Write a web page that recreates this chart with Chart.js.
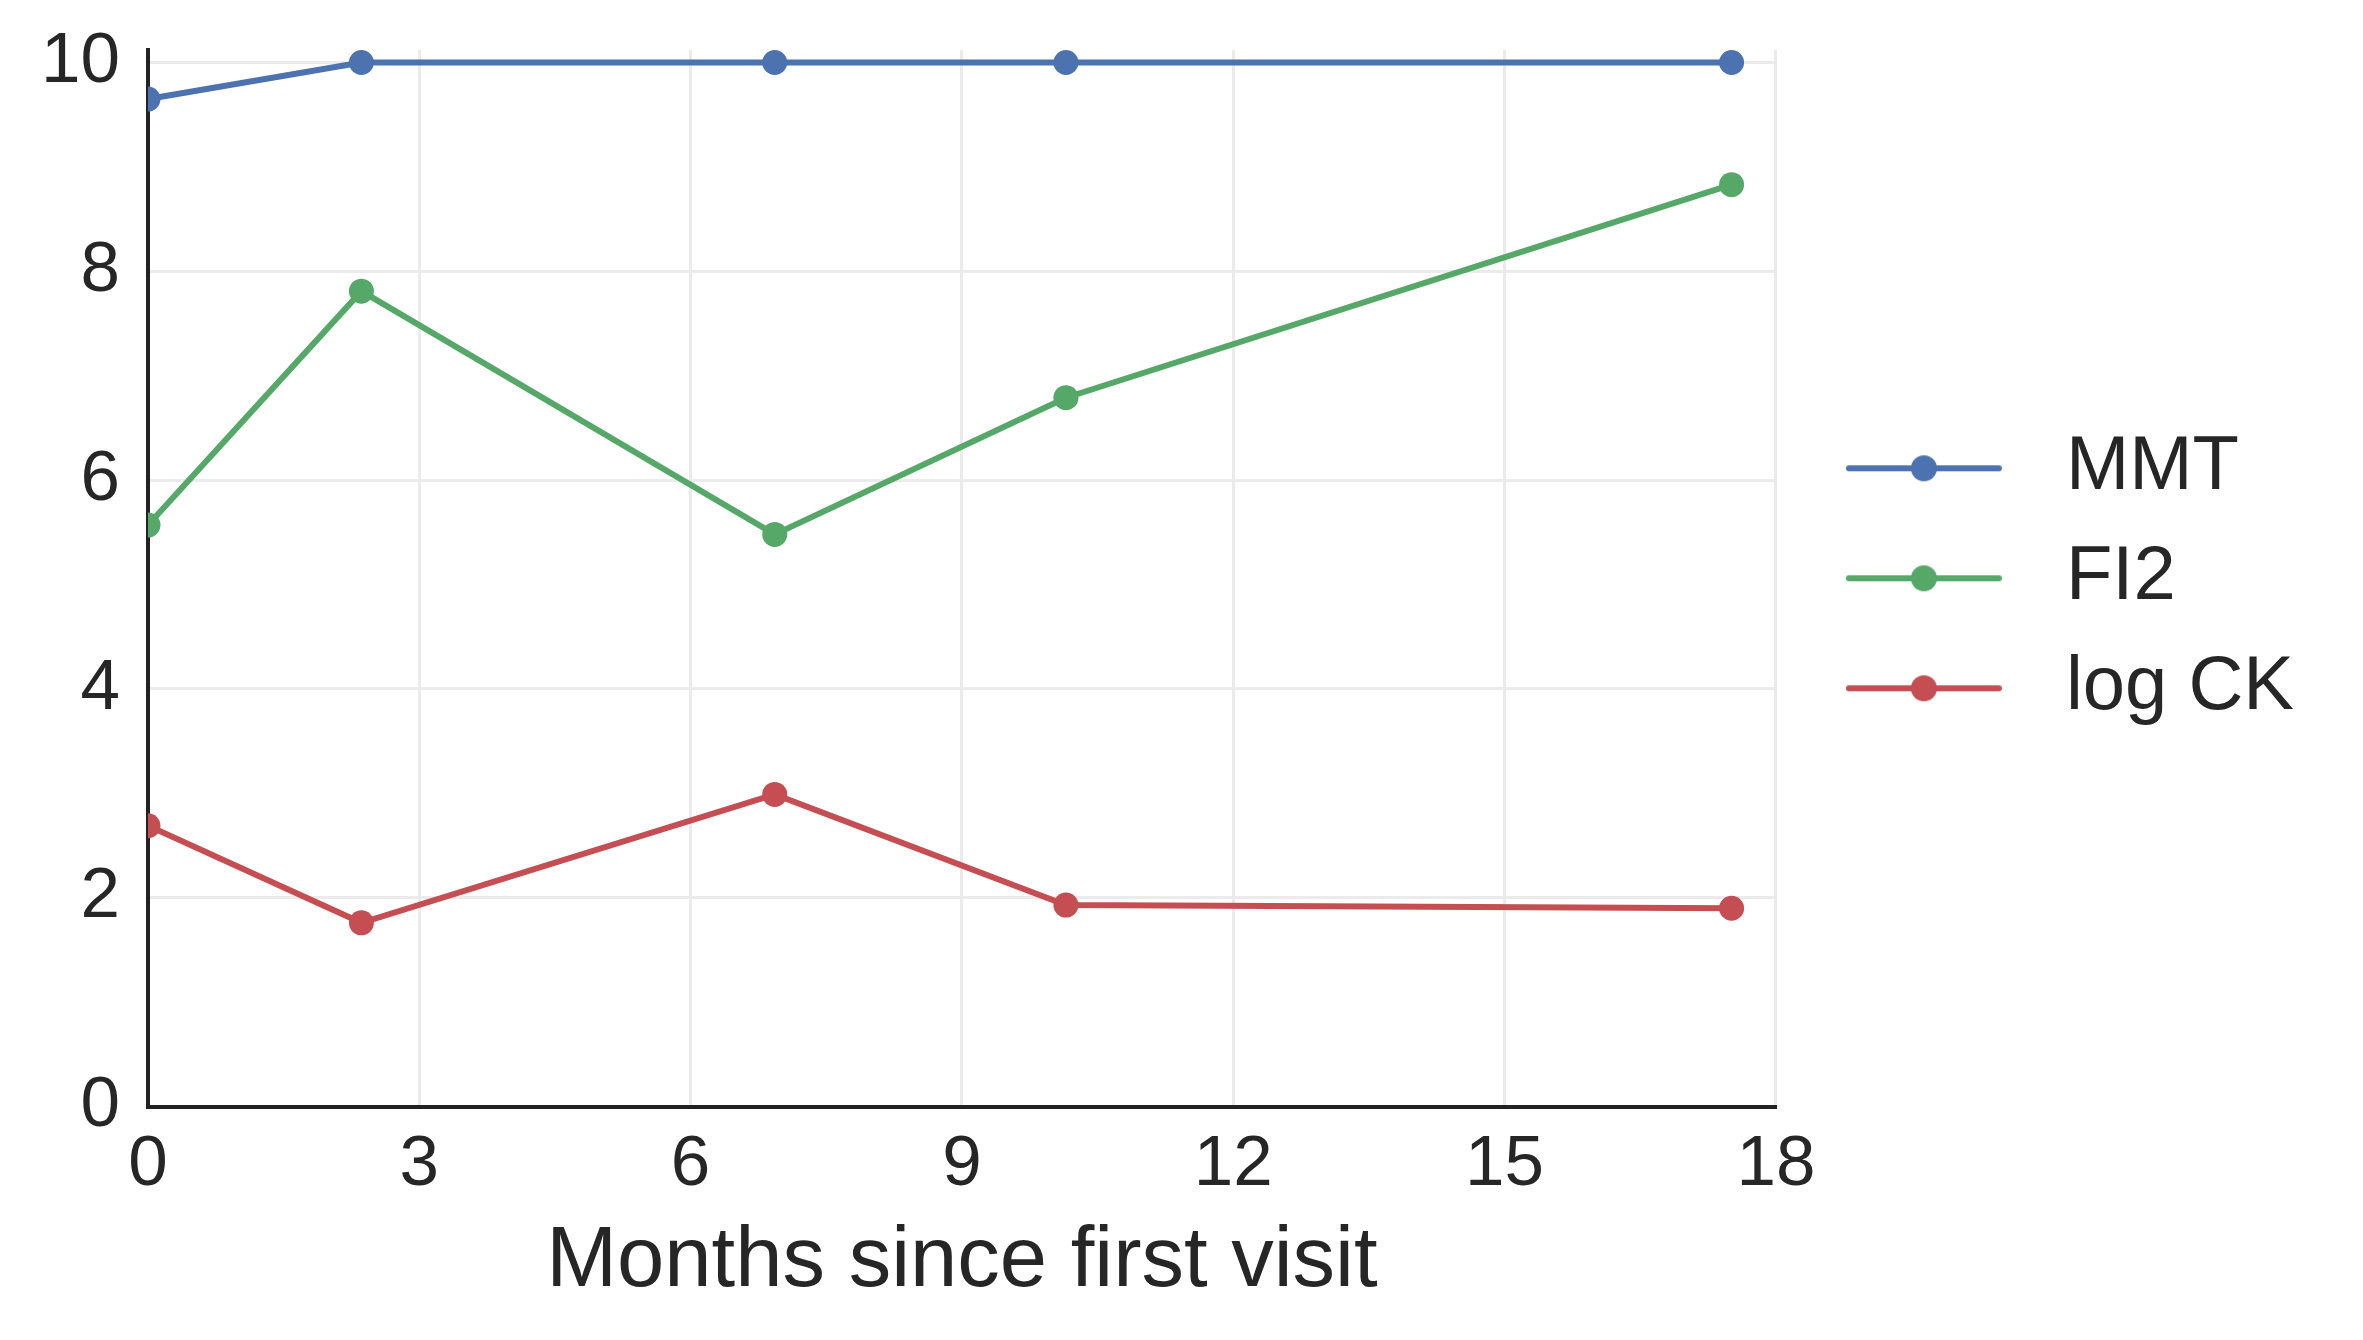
<!DOCTYPE html>
<html>
<head>
<meta charset="utf-8">
<script src="https://cdn.jsdelivr.net/npm/chart.js@4/dist/chart.umd.min.js"></script>
<style>
  html, body { margin: 0; padding: 0; background: #ffffff; }
  #chartBox { width: 2363px; height: 1340px; }
</style>
</head>
<body>
<div id="chartBox"><canvas id="visitChart" width="2363" height="1340"></canvas></div>
<script>
// Months since first visit for each visit
const months = [0, 2.36, 6.93, 10.15, 17.51];

// Series values
const mmtValues = [9.65, 10, 10, 10, 10];
const fi2Values = [5.57, 7.81, 5.48, 6.79, 8.83];
const logCkValues = [2.69, 1.76, 2.99, 1.93, 1.90];

const seriesNames = ["MMT", "FI2", "log CK"];
const seriesColors = ["#4c72b0", "#55a868", "#c44e52"];

const yTicks = [0, 2, 4, 6, 8, 10];
const xTicks = [0, 3, 6, 9, 12, 15, 18];

const textColor = "#262626";
const fontName = "'Liberation Sans', Arial, sans-serif";

// Legend marker: a line with a dot in the middle, like matplotlib
function legendMarker(color) {
  let c = document.createElement("canvas");
  c.width = 218;
  c.height = 40;
  let ctx = c.getContext("2d");
  ctx.strokeStyle = color;
  ctx.lineWidth = 6;
  ctx.lineCap = "round";
  ctx.beginPath();
  ctx.moveTo(39, 20);
  ctx.lineTo(189, 20);
  ctx.stroke();
  ctx.fillStyle = color;
  ctx.beginPath();
  ctx.arc(114, 20, 13, 0, Math.PI * 2);
  ctx.fill();
  return c;
}

function toPoints(values) {
  return values.map((v, i) => ({x: months[i], y: v}));
}

let allValues = [mmtValues, fi2Values, logCkValues];
let datasets = allValues.map((vals, i) => ({
  label: seriesNames[i],
  data: toPoints(vals),
  borderColor: seriesColors[i],
  backgroundColor: seriesColors[i],
  borderWidth: 6,
  pointRadius: 12.5,
  pointHoverRadius: 12.5,
  pointBorderWidth: 0,
  pointBackgroundColor: seriesColors[i],
  tension: 0
}));

let markers = seriesColors.map(c => legendMarker(c));

let config = {
  type: "line",
  data: { datasets: datasets },
  options: {
    responsive: false,
    animation: false,
    layout: {
      padding: { left: 13, top: 50, right: 59, bottom: 38 }
    },
    plugins: {
      tooltip: { enabled: false },
      legend: {
        position: "right",
        fullSize: false,
        labels: {
          usePointStyle: true,
          pointStyleWidth: 218,
          padding: 34,
          color: textColor,
          font: { family: fontName, size: 76 },
          generateLabels: (chart) => chart.data.datasets.map((ds, i) => ({
            text: ds.label,
            pointStyle: markers[i],
            fontColor: textColor,
            strokeStyle: "transparent",
            fillStyle: "transparent",
            lineWidth: 0,
            datasetIndex: i
          }))
        }
      }
    },
    scales: {
      x: {
        type: "linear",
        min: 0,
        max: 18,
        afterBuildTicks: (scale) => {
          scale.ticks = xTicks.map(v => ({value: v}));
        },
        grid: { color: "#ebebeb", lineWidth: 3, drawTicks: false },
        border: { display: true, color: "#222222", width: 4 },
        ticks: {
          color: textColor,
          padding: 16,
          maxRotation: 0,
          font: { family: fontName, size: 71 }
        },
        title: {
          display: true,
          text: "Months since first visit",
          color: textColor,
          padding: { top: 0, bottom: 0 },
          font: { family: fontName, size: 85, lineHeight: 0.92 }
        }
      },
      y: {
        type: "linear",
        min: 0,
        max: 10.12,
        afterBuildTicks: (scale) => {
          scale.ticks = yTicks.map(v => ({value: v}));
        },
        grid: { color: "#ebebeb", lineWidth: 3, drawTicks: false },
        border: { display: true, color: "#222222", width: 4 },
        ticks: {
          color: textColor,
          padding: 28,
          // small line height so the top label does not push the plot down
          font: { family: fontName, size: 71, lineHeight: 0.6 }
        }
      }
    }
  }
};

let visitChart = new Chart(document.querySelector("#visitChart"), config);
</script>
</body>
</html>
